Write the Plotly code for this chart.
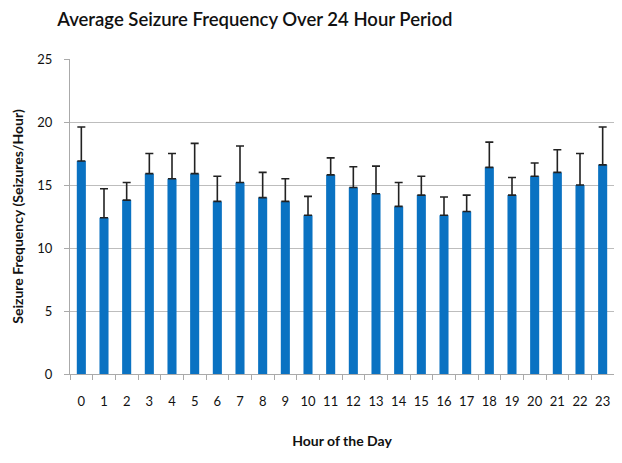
import plotly.graph_objects as go

hours = [str(h) for h in range(24)]
mean_freq = [16.9, 12.4, 13.8, 15.9, 15.5, 15.9, 13.7, 15.2, 14.0, 13.7, 12.6, 15.8,
             14.8, 14.3, 13.3, 14.2, 12.6, 12.9, 16.4, 14.2, 15.7, 16.0, 15.0, 16.6]
upper_err = [2.7, 2.3, 1.4, 1.6, 2.0, 2.4, 2.0, 2.9, 2.0, 1.8, 1.5, 1.35,
             1.65, 2.2, 1.9, 1.5, 1.45, 1.3, 2.0, 1.4, 1.05, 1.8, 2.5, 3.0]
lower_err = [0] * 24
y_ticks = [0, 5, 10, 15, 20, 25]

font_family = "Lato, 'Open Sans', sans-serif"

fig = go.Figure(go.Bar(
    x=hours, y=mean_freq,
    marker=dict(color="#0a72c2", line=dict(width=0)),
    error_y=dict(type="data", symmetric=False, array=upper_err, arrayminus=lower_err,
                 color="#222222", thickness=1.6, width=4),
))

fig.update_layout(
    width=614, height=455,
    margin=dict(l=62, r=8, t=51, b=89),
    paper_bgcolor="white", plot_bgcolor="white",
    bargap=0.6,
    showlegend=False,
    font=dict(family=font_family, color="#111111"),
    title=dict(text="Average Seizure Frequency Over 24 Hour Period",
               x=0.402, xanchor="center", y=0.99, yanchor="top", pad=dict(t=0, b=0),
               font=dict(size=18.5, color="#111111", family=font_family, weight=600)),
)
fig.update_xaxes(
    type="category", showgrid=False, automargin=False,
    showline=True, linecolor="#aaaaaa", linewidth=1,
    ticks="outside", tickson="boundaries", ticklen=5, tickcolor="#aaaaaa",
    tickangle=0, ticklabelstandoff=15,
    tickfont=dict(size=13, color="#111111"),
    title=dict(text="<b>Hour of the Day</b>", font=dict(size=14), standoff=28),
)
fig.update_yaxes(
    range=[0, 25], tickvals=y_ticks, automargin=False,
    showgrid=True, gridcolor="#bdbdbd", gridwidth=1,
    showline=True, linecolor="#aaaaaa", linewidth=1,
    ticks="outside", ticklen=5, tickcolor="#aaaaaa", ticklabelstandoff=9,
    tickfont=dict(size=13, color="#111111"),
    zeroline=False,
    title=dict(text="<b>Seizure Frequency (Seizures/Hour)</b>", font=dict(size=14), standoff=10),
)

fig.write_html("out.html")
